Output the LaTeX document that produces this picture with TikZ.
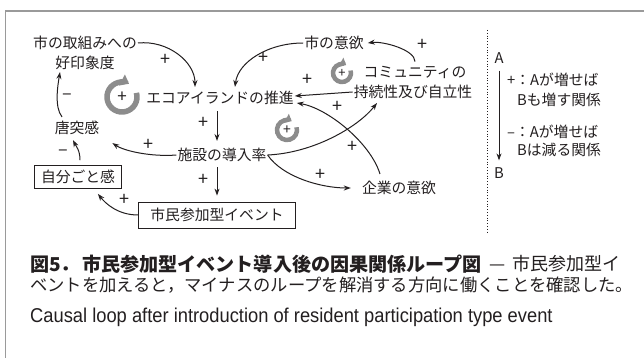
\documentclass[tikz,border=0pt]{standalone}
\usepackage{graphicx}
\usepackage{fontspec}
\setmainfont{Noto Sans CJK JP}
\newfontfamily\enfont{Liberation Sans}
\usetikzlibrary{arrows.meta}
\definecolor{ink}{HTML}{231F20}
\definecolor{loopgray}{HTML}{8C8C8C}
\definecolor{framegray}{HTML}{9A9A9A}
\begin{document}
\begin{tikzpicture}[x=1pt,y=-1pt,
  lbl/.style={font=\fontsize{14.8}{16}\selectfont, text=ink, inner sep=1pt},
  boxed/.style={lbl, draw=ink, line width=0.8pt},
  conn/.style={ink, line width=1pt, -{Stealth[length=7pt,width=5pt]}},
  sgn/.style={font=\fontsize{18}{18}\selectfont, text=ink, inner sep=0pt},
  bigloop/.style={loopgray, line width=5.5pt, -{Triangle[length=8pt,width=12pt]}},
  smallloop/.style={loopgray, line width=4.5pt, -{Triangle[length=6pt,width=10pt]}},
  legtxt/.style={lbl, anchor=west},
  captxt/.style={text=ink, inner sep=0pt, anchor=west}]
\useasboundingbox (0,0) rectangle (644,358);
\fill[white] (0,0) rectangle (644,358);
% frame
\draw[framegray, line width=1.6pt] (5,11) -- (644,11);
\draw[framegray, line width=0.9pt] (5,11) -- (5,358);

% nodes
\node[lbl] (n1a) at (85,43) {市の取組みへの};
\node[lbl] (n1b) at (85,63) {好印象度};
\node[lbl] (n2) at (334,43) {市の意欲};
\node[lbl] (n3a) at (415,72) {コミュニティの};
\node[lbl] (n3b) at (413,92) {持続性及び自立性};
\node[lbl] (n4) at (220,98) {エコアイランドの推進};
\node[lbl] (n5) at (222,155) {施設の導入率};
\node[lbl] (n6) at (399,188) {企業の意欲};
\node[lbl] (n7) at (77,128) {唐突感};
\node[boxed, minimum width=87pt, minimum height=23pt] (n8) at (78,177) {自分ごと感};
\node[boxed, minimum width=157pt, minimum height=26pt] (n9) at (217,215) {市民参加型イベント};

% loop icons
\draw[bigloop] (122,97) ++(-16:15) arc[start angle=-16, end angle=298, radius=15];
\node[sgn, font=\fontsize{17}{17}\selectfont] (i1) at (122,97) {+};
\draw[smallloop] (287,130) ++(-16:10) arc[start angle=-16, end angle=298, radius=10];
\node[sgn, font=\fontsize{14}{14}\selectfont] (i2) at (287,130) {+};
\draw[smallloop] (342,73) ++(-16:9) arc[start angle=-16, end angle=298, radius=9];
\node[sgn, font=\fontsize{13}{13}\selectfont] (i3) at (342,73) {+};

% connectors
\draw[conn] (n1a.east) .. controls +(30,-3) and +(0,-25) .. ([xshift=-25pt,yshift=3pt]n4.north);
\draw[conn] (n2.west) .. controls +(-35,0) and +(3,-25) .. ([xshift=15pt,yshift=3pt]n4.north);
\draw[conn] ([yshift=3pt]n3a.north) .. controls +(0,-12) and +(15,-2) .. ([xshift=3pt]n2.east);
\draw[conn] (n3b.west) -- ([yshift=2pt]n4.east);
\draw[conn] ([xshift=-19pt,yshift=6pt]n6.north) .. controls +(-10,-32) and +(30,5) .. ([xshift=2pt,yshift=-5pt]n4.east);
\draw[conn] (n5.east) .. controls +(45,-2) and +(-20,25) .. ([xshift=-36pt,yshift=-3pt]n3b.south);
\draw[conn] (n5.east) .. controls +(15,22) and +(-30,0) .. ([xshift=-10pt]n6.west);
\draw[conn] ([xshift=-3pt,yshift=-5pt]n4.south) -- ([xshift=-5pt,yshift=6pt]n5.north);
\draw[conn] ([xshift=-5pt,yshift=-4pt]n5.south) -- ([yshift=6pt]n9.north);
\draw[conn] (n5.west) .. controls +(-25,2) and +(12,8) .. ([xshift=12pt,yshift=-7pt]n7.south east);
\draw[conn] ([xshift=2pt,yshift=5pt]n8.north) .. controls +(0,-10) and +(3,6) .. ([xshift=-4pt,yshift=-4pt]n7.south);
\draw[conn] (n9.west) .. controls +(-20,0) and +(8,10) .. ([xshift=-24pt,yshift=-5pt]n8.south east);
\draw[conn] ([xshift=-15pt,yshift=3pt]n7.north) .. controls +(-8,-10) and +(-2,12) .. ([xshift=-25pt,yshift=-1pt]n1b.south);

% signs
\node[sgn] (s1) at (165,60) {+};
\node[sgn] (s2) at (263,58) {+};
\node[sgn] (s3) at (422,45) {+};
\node[sgn] (s4) at (307,80) {+};
\node[sgn] (s5) at (337,107) {+};
\node[sgn] (s6) at (352,147) {+};
\node[sgn] (s7) at (320,175) {+};
\node[sgn] (s8) at (203,123) {+};
\node[sgn] (s9) at (203,180) {+};
\node[sgn] (s10) at (148,145) {+};
\node[sgn] (s11) at (63,153) {–};
\node[sgn] (s12) at (124,200) {+};
\node[sgn] (s13) at (67,97) {–};

% legend
\coordinate (d1) at (487,30);
\coordinate (d2) at (487,232);
\draw[ink, dotted, line width=0.8pt] (d1) -- (d2);
\node[lbl] (la) at (499,58) {A};
\node[lbl] (lb) at (499,173) {B};
\draw[conn] ([yshift=-6pt]la.south) -- ([yshift=6pt]lb.north);
\node[legtxt] (l1) at (506,80) {+：Aが増せば};
\node[legtxt] (l2) at (516,100) {Bも増す関係};
\node[legtxt] (l3) at (506,132) {–：Aが増せば};
\node[legtxt] (l4) at (516,150) {Bは減る関係};

% caption
\node[captxt] (c1) at (30,264) {\fontsize{19.1}{20}\selectfont\bfseries 図5．\hspace{2pt}市民参加型イベント導入後の因果関係ループ図};
\node[captxt] (c2) at (489,264) {\fontsize{18}{20}\selectfont —\hspace{7pt}市民参加型イ};
\node[captxt] (c3) at (30,285) {\fontsize{17.3}{20}\selectfont ベントを加えると，マイナスのループを解消する方向に働くことを確認した。};
\node[captxt] (c4) at (30,317) {\enfont\fontsize{20}{22}\selectfont\scalebox{0.916}[1]{Causal loop after introduction of resident participation type event}};
\end{tikzpicture}
\end{document}
